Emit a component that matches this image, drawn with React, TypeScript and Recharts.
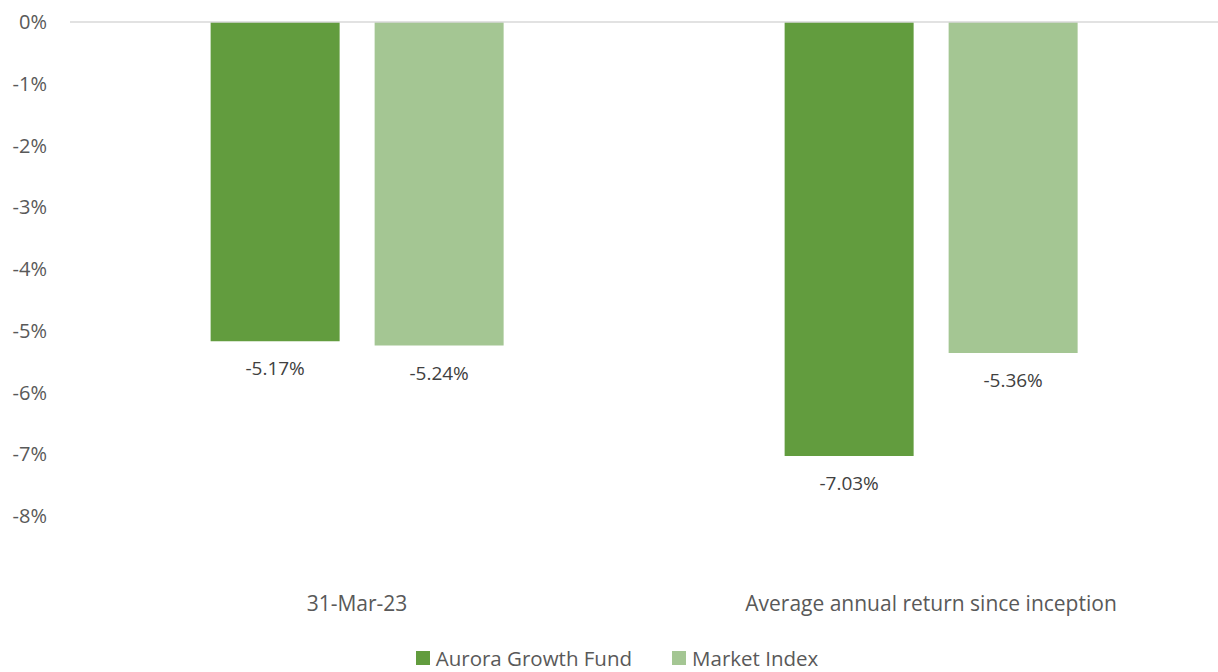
import { Bar, BarChart, LabelList, Legend, ReferenceLine, XAxis, YAxis } from "recharts";

const categories = ["31-Mar-23", "Average annual return since inception"];
const fundValues = [-5.17, -7.03];
const indexValues = [-5.24, -5.36];
const yTicks = [0, -1, -2, -3, -4, -5, -6, -7, -8];

const SERIES = [
  { key: "fund", name: "Aurora Growth Fund", color: "#629C3E" },
  { key: "index", name: "Market Index", color: "#A4C693" }
];

const FONT = "'Open Sans', 'Liberation Sans', sans-serif";

const data = categories.map((c, i) => ({ cat: c, fund: fundValues[i], index: indexValues[i] }));

function CatTick({ x, y, payload }: any) {
  return (
    <text x={x} y={y + 79} textAnchor="middle" dominantBaseline="central" fontSize={21} fill="#595959" fontFamily={FONT}>
      {payload.value}
    </text>
  );
}

function ValueLabel({ x, y, width, height, value }: any) {
  const bottom = Math.max(y, y + height);
  return (
    <text x={x + width / 2} y={bottom + 27} textAnchor="middle" dominantBaseline="central" fontSize={19} fill="#404040" fontFamily={FONT}>
      {value.toFixed(2)}%
    </text>
  );
}

function LegendBox() {
  return (
    <div style={{ height: 56, display: "flex", justifyContent: "center", alignItems: "flex-end", paddingLeft: 16, boxSizing: "border-box", fontFamily: FONT, fontSize: 20.5, color: "#595959" }}>
      {SERIES.map((s) => (
        <div key={s.key} style={{ display: "flex", alignItems: "center", margin: "0 20px" }}>
          <span style={{ width: 14, height: 14, background: s.color, display: "inline-block", marginRight: 6 }} />
          <span>{s.name}</span>
        </div>
      ))}
    </div>
  );
}

export default function App() {
  return (
    <div style={{ position: "absolute", left: 0, top: 0, background: "#fff" }}>
      <BarChart width={1218} height={672} data={data} margin={{ top: 22, right: 0, left: 0, bottom: 0 }} barCategoryGap="24.5%" barGap={35}>
        <XAxis dataKey="cat" axisLine={false} tickLine={false} height={100} tick={<CatTick />} interval={0} />
        <YAxis
          domain={[-8, 0]}
          ticks={yTicks}
          width={70}
          axisLine={false}
          tickLine={false}
          tickFormatter={(v: number) => `${v}%`}
          tick={{ fontSize: 20, fill: "#595959", fontFamily: FONT, dx: -15 }}
        />
        <ReferenceLine y={0} stroke="#D9D9D9" strokeWidth={1.5} />
        <Legend content={<LegendBox />} verticalAlign="bottom" height={56} />
        {SERIES.map((s) => (
          <Bar key={s.key} dataKey={s.key} name={s.name} fill={s.color} isAnimationActive={false}>
            <LabelList dataKey={s.key} content={<ValueLabel />} />
          </Bar>
        ))}
      </BarChart>
    </div>
  );
}
